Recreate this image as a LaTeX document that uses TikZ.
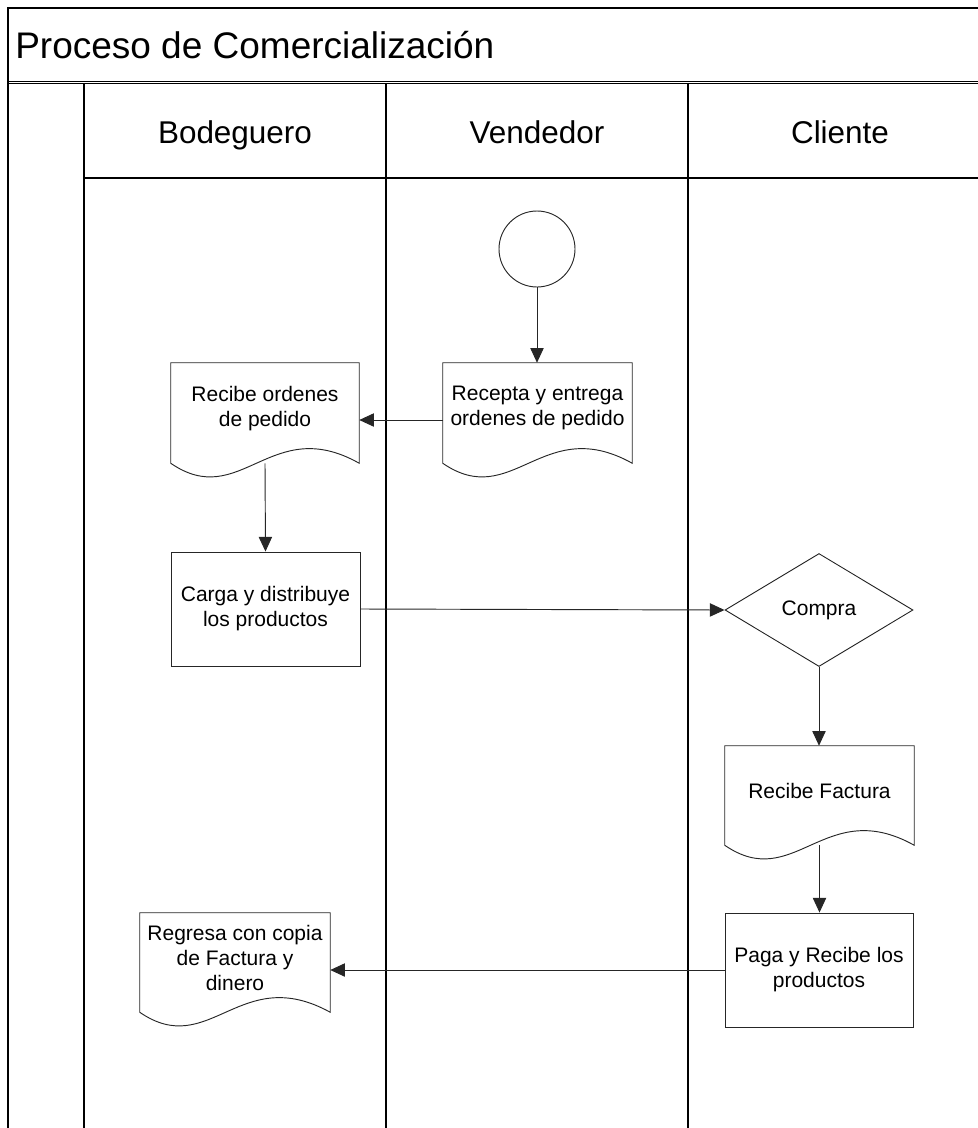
\documentclass[tikz,border=0pt]{standalone}
\usepackage{fontspec}
\setmainfont{Liberation Sans}
\usetikzlibrary{shapes.geometric,arrows.meta,calc}
\newcommand{\boxfont}{\fontsize{15.75pt}{18.75pt}\selectfont}
\newcommand{\docoutline}[1]{%
  \draw[shapeline] (#1.south west) -- (#1.north west) -- (#1.north east) -- (#1.south east)
    .. controls ($(#1.south west)+(100,-50)$) and ($(#1.south west)+(70,48)$) .. (#1.south west) -- cycle;}
\begin{document}
\begin{tikzpicture}[x=0.75pt,y=-0.75pt,
  lane/.style={line width=0.9pt,draw=black},
  shapeline/.style={line width=0.7pt,draw=black!85},
  docnode/.style={draw=none,inner sep=0pt,minimum width=141pt,minimum height=75pt,
    label={[font=\boxfont,align=center,yshift=3.5pt]center:#1}},
  boxnode/.style={shapeline,rectangle,inner sep=0pt,align=center,font=\boxfont,minimum width=141pt,minimum height=85.5pt},
  arr/.style={line width=0.7pt,draw=black!85,-{Triangle[length=11pt,width=10pt]}},
  header/.style={anchor=base,font=\fontsize{23.6pt}{28pt}\selectfont}
]
\useasboundingbox (0,0) rectangle (978,1128);
% frame and lanes
\draw[lane] (8,1130) -- (8,8) -- (980,8);
\draw[lane,line width=0.7pt] (8,81) -- (980,81);
\draw[lane,line width=0.7pt] (8,83.5) -- (980,83.5);
\draw[lane] (84,83.5) -- (84,1130);
\draw[lane] (386,83.5) -- (386,1130);
\draw[lane] (688,83.5) -- (688,1130);
\draw[lane] (84,178) -- (980,178);
% title and headers
\node[anchor=base west,inner sep=0pt,font=\fontsize{27.75pt}{32pt}\selectfont] (title) at (15,58) {Proceso de Comercialización};
\node[header] (hbod) at (235,143) {Bodeguero};
\node[header] (hven) at (537,143) {Vendedor};
\node[header] (hcli) at (840,143) {Cliente};
% shapes
\node[shapeline,circle,minimum size=57pt,inner sep=0pt] (start) at (537,249) {};
\node[docnode={Recepta y entrega\\ordenes de pedido},minimum width=141.75pt] (recepta) at (537.5,413) {};
\docoutline{recepta}
\node[docnode={Recibe ordenes\\de pedido}] (recibe) at (265,413) {};
\docoutline{recibe}
\node[boxnode,minimum width=141.75pt] (carga) at (265.5,609) {Carga y distribuye\\los productos};
\node[shapeline,diamond,inner sep=0pt,minimum width=141pt,minimum height=84.75pt,font=\boxfont] (compra) at (819,610) {\raisebox{-2pt}{Compra}};
\node[docnode={Recibe Factura},minimum width=141.75pt,minimum height=74.25pt] (factura) at (819.5,795.5) {};
\docoutline{factura}
\node[boxnode] (paga) at (819,970) {Paga y Recibe los\\productos};
\node[docnode={Regresa con copia\\de Factura y\\dinero},minimum width=142.5pt,minimum height=74.25pt] (regresa) at (235,962.5) {};
\docoutline{regresa}
% connectors
\draw[arr] (start.south) -- (start.south |- recepta.north);
\draw[arr] ($(recepta.west)+(0,7)$) -- ($(recibe.east)+(0,7)$);
\draw[arr] (recibe.south) -- (carga.north);
\draw[arr] (carga.east) -- (compra.west);
\draw[arr] (compra.south) -- (compra.south |- factura.north);
\draw[arr] (factura.south) -- (factura.south |- paga.north);
\draw[arr] (paga.west) -- (paga.west -| regresa.east);
\end{tikzpicture}
\end{document}
